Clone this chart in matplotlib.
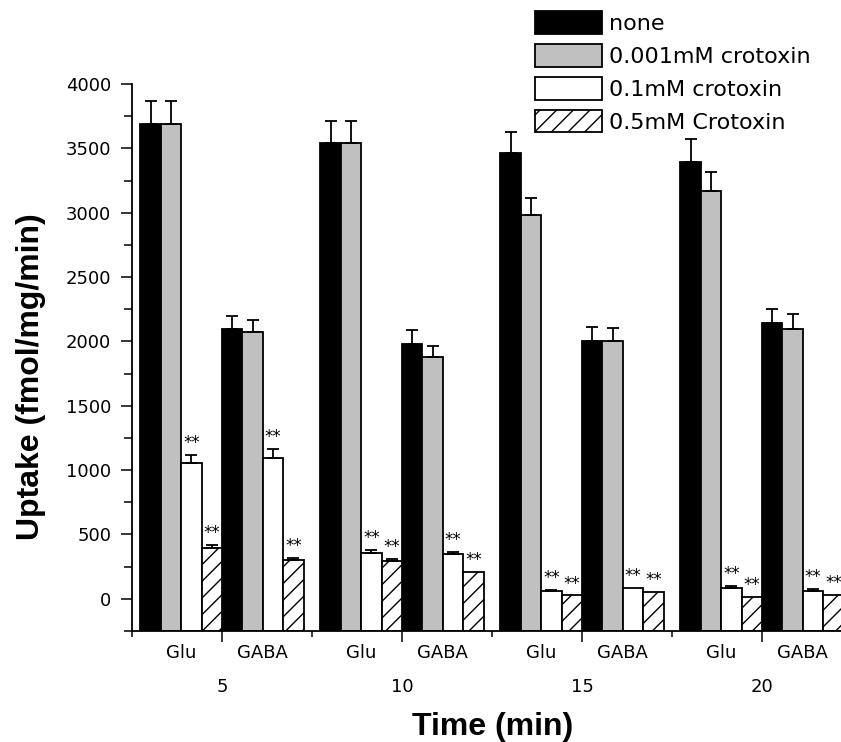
import numpy as np
import matplotlib
matplotlib.use("Agg")
import matplotlib.pyplot as plt
from matplotlib.ticker import MultipleLocator

plt.rcParams['font.family'] = ['DejaVu Sans']
plt.rcParams['hatch.linewidth'] = 1.0

# data: order is Glu5, GABA5, Glu10, GABA10, Glu15, GABA15, Glu20, GABA20
times = ["5", "10", "15", "20"]
substrates = ["Glu", "GABA"]
series = ["none", "0.001mM crotoxin", "0.1mM crotoxin", "0.5mM Crotoxin"]

none = [3690, 2100, 3540, 1980, 3465, 2005, 3395, 2145]
none_err = [175, 100, 170, 110, 160, 110, 175, 110]
low = [3690, 2070, 3540, 1880, 2980, 2005, 3170, 2100]
low_err = [175, 100, 170, 85, 135, 100, 150, 110]
mid = [1056, 1095, 357, 349, 57, 82, 82, 62]
mid_err = [60, 70, 20, 13, 15, 0, 15, 12]
high = [395, 305, 292, 210, 26, 55, 14, 30]
high_err = [20, 12, 15, 0, 0, 0, 0, 0]
signif = [False, False, True, True]

values = [none, low, mid, high]
errors = [none_err, low_err, mid_err, high_err]
colors = ["black", "#c0c0c0", "white", "white"]
hatches = [None, None, None, "//"]

ymin = -250

fig = plt.figure(figsize=(8.41, 7.42), dpi=100)
ax = fig.add_axes([132 / 841, 111 / 742, 720 / 841, 547 / 742])

w = 0.1133
centers = np.arange(1, len(times) + 1)
handles = []
for s in range(len(series)):
    xs, ys, es = [], [], []
    for t, c in enumerate(centers):
        for g in range(len(substrates)):
            xs.append(c + (g * 4 + s - 4) * w + w / 2)
            ys.append(values[s][t * 2 + g])
            es.append(errors[s][t * 2 + g])
    xs = np.array(xs)
    ys = np.array(ys)
    es = np.array(es)
    # bars start at the bottom of the axis, like in the original Origin plot
    b = ax.bar(xs, ys - ymin, bottom=ymin, width=w, color=colors[s], edgecolor="black",
               linewidth=1.3, hatch=hatches[s], label=series[s], zorder=2)
    handles.append(b)
    m = es > 0
    ax.errorbar(xs[m], ys[m], yerr=[np.zeros(m.sum()), es[m]], fmt="none",
                ecolor="black", elinewidth=1.3, capsize=4, capthick=1.3, zorder=3)
    if signif[s]:
        for x, y, e in zip(xs, ys, es):
            ax.annotate("**", (x, y + e), xytext=(0, 5), textcoords="offset points",
                        ha="center", va="baseline", fontsize=12)

ax.set_xlim(0.5, 4.5)
ax.set_ylim(ymin, 4000)
ax.spines["top"].set_visible(False)
ax.spines["right"].set_visible(False)
for sp in ("left", "bottom"):
    ax.spines[sp].set_linewidth(1.3)

ax.set_yticks(np.arange(0, 4001, 500))
ax.yaxis.set_minor_locator(MultipleLocator(250))
ax.set_xticks(centers, times)
ax.set_xticks(np.arange(0.5, 4.6, 1.0), minor=True)
ax.tick_params(axis="y", which="major", direction="out", length=8, width=1.1,
               labelsize=13, pad=7)
ax.tick_params(axis="y", which="minor", direction="out", length=6, width=1.1)
ax.tick_params(axis="x", which="major", direction="out", length=8, width=1.1,
               labelsize=13, pad=26)
ax.tick_params(axis="x", which="minor", direction="out", length=4.5, width=1.1)

for c in centers:
    for g, name in enumerate(substrates):
        ax.text(c + (g * 4 - 2) * w, -0.040, name, transform=ax.get_xaxis_transform(),
                ha="center", va="center", fontsize=13)

fig.text(493 / 841, 7 / 742, "Time (min)", ha="center", va="baseline",
         fontsize=23, fontweight="bold", family="Liberation Sans")
fig.text(31 / 841, 1 - 377 / 742, "Uptake (fmol/mg/min)", rotation=90,
         ha="center", va="center", fontsize=23, fontweight="bold",
         family="Liberation Sans")

fig.legend(handles=handles, loc="upper left", bbox_to_anchor=(535 / 841, 1 - 11 / 742),
           frameon=False, fontsize=16, handlelength=3.0, handleheight=1.2,
           handletextpad=0.35, labelspacing=0.45, borderpad=0, borderaxespad=0)

fig.savefig("out.png", dpi=100)
